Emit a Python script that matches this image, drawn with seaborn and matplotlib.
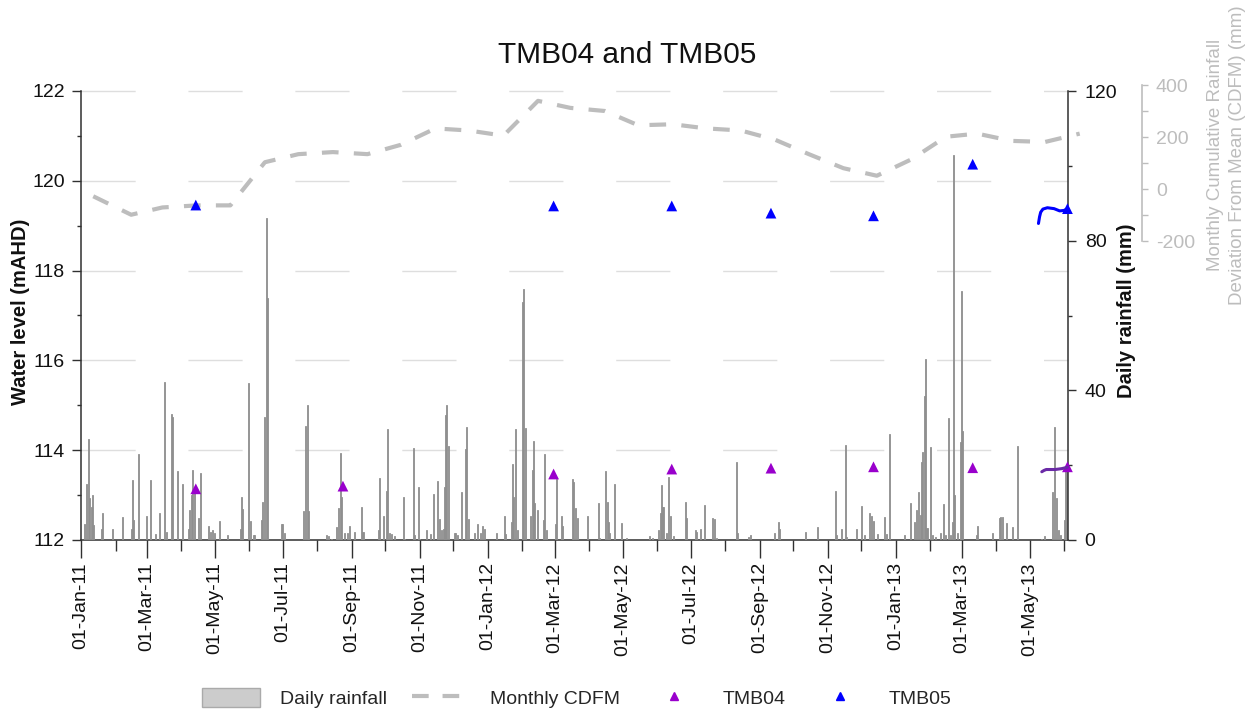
import numpy as np
import pandas as pd
import matplotlib
matplotlib.use("Agg")
import matplotlib.pyplot as plt
import matplotlib.dates as mdates
from matplotlib.ticker import FixedLocator, MultipleLocator
from matplotlib.lines import Line2D
from matplotlib.patches import Patch
import seaborn as sns

# ---------------- data ----------------
record_start = "2011-01-01"

# daily rainfall: day of record (days since 1 Jan 2011) and depth (mm)
rain_day = [3, 5, 7, 8, 9, 10, 11, 18, 19, 28, 37, 45, 46, 47, 52, 59, 62, 67, 70, 75,
            77, 81, 82, 87, 91, 96, 97, 99, 100, 102, 105, 107, 114, 116, 118, 120, 124, 131, 143, 144,
            145, 150, 152, 155, 156, 162, 163, 165, 166, 167, 180, 181, 183, 200, 201, 203, 204, 220, 222, 225,
            229, 231, 233, 234, 236, 239, 241, 245, 252, 253, 267, 268, 271, 274, 275, 277, 279, 281, 289, 290,
            298, 299, 303, 304, 310, 314, 316, 320, 322, 323, 325, 326, 327, 328, 330, 335, 336, 338, 341, 345,
            346, 348, 353, 356, 358, 360, 362, 373, 380, 381, 386, 387, 388, 390, 392, 396, 397, 399, 403, 405,
            406, 407, 410, 415, 416, 418, 426, 427, 431, 432, 441, 442, 444, 445, 454, 464, 465, 471, 472, 473,
            474, 479, 485, 489, 510, 513, 518, 520, 521, 522, 523, 525, 527, 529, 532, 542, 543, 551, 552, 556,
            559, 567, 568, 570, 588, 589, 599, 601, 622, 626, 627, 650, 661, 677, 678, 682, 686, 687, 696, 700,
            703, 707, 709, 711, 715, 721, 723, 725, 739, 744, 748, 750, 751, 753, 754, 755, 757, 758, 759, 762,
            764, 767, 771, 774, 776, 778, 780, 782, 783, 784, 786, 789, 790, 791, 803, 804, 818, 824, 825, 827,
            830, 836, 840, 862, 864, 872, 873, 875, 877, 879, 882, 883, 884]
rain_mm = [4.4, 15.1, 26.9, 11.1, 8.9, 12.0, 4.0, 3.0, 7.1, 3.0, 6.2, 3.0, 16.0, 5.3, 23.0, 6.4, 16.0, 1.5, 7.3, 42.3,
           2.2, 33.7, 32.8, 18.5, 15.0, 3.0, 8.0, 12.0, 18.7, 13.4, 5.8, 18.0, 3.7, 2.2, 2.7, 1.8, 5.2, 1.3, 3.0, 11.6,
           8.2, 41.9, 5.2, 1.3, 1.3, 5.3, 10.2, 32.9, 86.0, 64.8, 4.3, 4.4, 1.8, 7.8, 30.5, 36.1, 7.8, 1.3, 1.2, 0.4,
           3.6, 8.5, 23.2, 11.6, 1.8, 1.8, 3.7, 2.2, 8.9, 2.2, 2.7, 16.5, 6.5, 13.1, 29.6, 1.8, 1.5, 1.2, 11.4, 0.3,
           24.5, 1.3, 14.1, 0.4, 2.7, 1.5, 12.3, 15.8, 5.5, 2.7, 3.0, 14.1, 33.4, 36.1, 25.1, 2.0, 2.0, 1.3, 12.7, 24.2,
           30.3, 5.5, 2.0, 4.3, 2.0, 3.7, 3.0, 2.0, 6.5, 1.5, 4.9, 20.3, 11.4, 29.6, 2.7, 63.7, 67.0, 29.8, 6.4, 18.7,
           26.5, 10.0, 8.0, 5.3, 23.0, 2.7, 4.3, 16.2, 6.5, 3.7, 16.4, 15.6, 8.5, 5.8, 6.4, 10.0, 0.6, 18.5, 10.2, 4.9,
           1.8, 15.0, 4.6, 0.6, 1.1, 0.6, 2.8, 7.1, 14.8, 8.9, 8.7, 1.8, 16.8, 6.5, 1.1, 10.2, 6.0, 2.7, 2.2, 3.0,
           9.4, 6.0, 5.5, 0.6, 20.9, 2.0, 0.9, 1.3, 1.8, 4.9, 3.0, 2.2, 3.6, 13.2, 1.3, 3.0, 25.4, 0.9, 3.0, 9.1,
           1.3, 7.1, 6.4, 5.2, 1.6, 6.1, 1.6, 28.3, 1.3, 9.8, 4.9, 8.0, 12.9, 6.7, 20.9, 23.6, 38.5, 48.5, 3.1, 24.9,
           1.3, 0.9, 1.8, 9.6, 1.3, 32.5, 1.3, 4.9, 102.9, 12.0, 1.8, 26.3, 66.6, 29.2, 1.3, 3.7, 2.0, 5.8, 6.1, 6.2,
           4.5, 3.6, 25.1, 0.4, 1.2, 12.9, 30.3, 11.1, 2.7, 1.3, 5.4, 18.6, 20.0]

# monthly cumulative deviation from mean (mm)
cdfm_date = ["2011-01-12", "2011-02-15", "2011-03-15", "2011-04-15", "2011-05-15", "2011-06-15",
             "2011-07-15", "2011-08-15", "2011-09-15", "2011-10-15", "2011-11-15", "2011-12-15",
             "2012-01-15", "2012-02-15", "2012-03-15", "2012-04-15", "2012-05-15", "2012-06-15",
             "2012-07-15", "2012-08-15", "2012-09-15", "2012-10-15", "2012-11-15", "2012-12-15",
             "2013-01-15", "2013-02-15", "2013-03-15", "2013-04-15", "2013-05-15", "2013-06-15"]
cdfm_value = [-28, -99, -71, -63, -63, 103, 134, 142, 134, 170, 233, 225,
              205, 339, 312, 300, 245, 249, 233, 225, 189, 134, 80, 51,
              114, 201, 213, 185, 181, 213]

# manual water level readings (mAHD)
tmb04_date = ["2011-04-14", "2011-08-24", "2012-02-29", "2012-06-14", "2012-09-11",
              "2012-12-12", "2013-03-11", "2013-06-04"]
tmb04_level = [113.14, 113.20, 113.47, 113.58, 113.60, 113.63, 113.61, 113.63]
tmb05_date = ["2011-04-14", "2012-02-29", "2012-06-14", "2012-09-11",
              "2012-12-12", "2013-03-11", "2013-06-04"]
tmb05_level = [119.46, 119.44, 119.44, 119.28, 119.22, 120.37, 119.38]

# logger water levels (mAHD)
tmb04_log_date = ["2013-05-12", "2013-05-14", "2013-05-16", "2013-05-20", "2013-05-24",
                  "2013-05-30", "2013-06-04"]
tmb04_log_level = [113.52, 113.55, 113.57, 113.57, 113.57, 113.59, 113.62]
tmb05_log_date = ["2013-05-09", "2013-05-10", "2013-05-11", "2013-05-13", "2013-05-17",
                  "2013-05-23", "2013-05-28", "2013-06-01", "2013-06-04"]
tmb05_log_level = [119.05, 119.20, 119.30, 119.37, 119.40, 119.38, 119.33, 119.34, 119.38]

x_range = ["2011-01-01", "2013-06-04 12:00"]

# ---------------- style ----------------
sns.set_theme(style="ticks")
plt.rcParams["font.family"] = ["Liberation Sans", "DejaVu Sans"]
plt.rcParams["lines.scale_dashes"] = False
plt.rcParams["axes.unicode_minus"] = False

C_RAIN = "#8f8f8f"
C_CDFM = "#bdbdbd"
C_04 = "#9900cc"
C_05 = "#0000ff"
C_04L = "#6a2aa6"
C_AX = "#303030"

W, H = 1250, 711
L, R, T, B = 81, 1068, 91, 540
pos = [L / W, 1 - B / H, (R - L) / W, (B - T) / H]

fig = plt.figure(figsize=(W / 100, H / 100), dpi=100)
ax = fig.add_axes(pos)                       # water level axis + grid
ax_rain = ax.twinx()                         # daily rainfall
ax_cdfm = fig.add_axes([L / W, 1 - B / H, (R - L) / W, (B - 85) / H], sharex=ax)
ax_pts = fig.add_axes(pos, sharex=ax, sharey=ax)

for z, a in enumerate([ax, ax_rain, ax_cdfm, ax_pts]):
    a.set_zorder(z)
for a in [ax_rain, ax_cdfm, ax_pts]:
    a.patch.set_visible(False)

# ---------------- rainfall ----------------
rain_dates = pd.Timestamp(record_start) + pd.to_timedelta(rain_day, unit="D")
ax_rain.bar(rain_dates, rain_mm, width=0.9, color=C_RAIN, edgecolor=C_RAIN, linewidth=0.6)

# ---------------- CDFM ----------------
sns.lineplot(x=pd.to_datetime(cdfm_date), y=cdfm_value, ax=ax_cdfm, color=C_CDFM,
             linewidth=3, linestyle=(0, (12, 11)), clip_on=False)

# ---------------- water levels ----------------
sns.lineplot(x=pd.to_datetime(tmb05_log_date), y=tmb05_log_level, ax=ax_pts,
             color=C_05, linewidth=2.2, clip_on=False)
sns.lineplot(x=pd.to_datetime(tmb04_log_date), y=tmb04_log_level, ax=ax_pts,
             color=C_04L, linewidth=2.2, clip_on=False)
sns.scatterplot(x=pd.to_datetime(tmb04_date), y=tmb04_level, ax=ax_pts, marker="^",
                s=60, color=C_04, edgecolor="none", clip_on=False)
sns.scatterplot(x=pd.to_datetime(tmb05_date), y=tmb05_level, ax=ax_pts, marker="^",
                s=60, color=C_05, edgecolor="none", clip_on=False)
ax_pts.axis("off")

# ---------------- axes ----------------
ax.set_xlim(pd.Timestamp(x_range[0]), pd.Timestamp(x_range[1]))
ax.set_ylim(112, 122)
ax_rain.set_ylim(0, 120)
ax_cdfm.set_ylim(-1350, 400)

ax.xaxis.set_major_locator(mdates.MonthLocator(bymonth=[1, 3, 5, 7, 9, 11]))
ax.xaxis.set_minor_locator(mdates.MonthLocator())
ax.xaxis.set_major_formatter(mdates.DateFormatter("%d-%b-%y"))
ax.yaxis.set_major_locator(MultipleLocator(2))
ax.yaxis.set_minor_locator(MultipleLocator(1))
ax_rain.yaxis.set_major_locator(MultipleLocator(40))
ax_rain.yaxis.set_minor_locator(MultipleLocator(20))

ax.tick_params(axis="x", which="major", length=13, width=1, color=C_AX,
               labelsize=14, labelrotation=90, pad=3, labelcolor="#111111")
ax.tick_params(axis="x", which="minor", length=8, width=1, color=C_AX)
ax.tick_params(axis="y", which="major", length=6.5, width=1, color=C_AX,
               labelsize=14, pad=5, labelcolor="#111111")
ax.tick_params(axis="y", which="minor", length=3, width=1, color=C_AX)
ax_rain.tick_params(axis="y", which="major", length=6, width=1, color=C_AX,
                    labelsize=14, pad=6, labelcolor="#111111")
ax_rain.tick_params(axis="y", which="minor", length=3, width=1, color=C_AX)

# long-dashed horizontal grid at the water-level major ticks
ax.grid(False)
for v in ax.get_yticks():
    if 112 < v <= 122:
        ax.axhline(v, color="#dedede", linewidth=1, dashes=(39, 38), zorder=0.5, clip_on=False)

for s in ["top", "right"]:
    ax.spines[s].set_visible(False)
for s in ["left", "bottom"]:
    ax.spines[s].set_color(C_AX)
    ax.spines[s].set_linewidth(1.1)
for s in ["top", "left", "bottom"]:
    ax_rain.spines[s].set_visible(False)
ax_rain.spines["right"].set_color(C_AX)
ax_rain.spines["right"].set_linewidth(1.1)

# CDFM axis
ax_cdfm.xaxis.set_visible(False)
for s in ["top", "left", "bottom"]:
    ax_cdfm.spines[s].set_visible(False)
ax_cdfm.yaxis.tick_right()
ax_cdfm.yaxis.set_label_position("right")
ax_cdfm.spines["right"].set_position(("axes", 1.075))
ax_cdfm.spines["right"].set_bounds(-200, 400)
ax_cdfm.spines["right"].set_color(C_CDFM)
ax_cdfm.spines["right"].set_linewidth(1.2)
ax_cdfm.yaxis.set_major_locator(FixedLocator([-200, 0, 200, 400]))
ax_cdfm.yaxis.set_minor_locator(FixedLocator([-100, 100, 300]))
ax_cdfm.tick_params(axis="y", which="both", length=4, width=1, color=C_CDFM,
                    labelsize=14, labelcolor=C_CDFM, pad=6)

# labels
ax.set_xlabel("")
ax.set_ylabel("Water level (mAHD)", fontsize=14.5, fontweight="bold", color="#111111")
ax.yaxis.set_label_coords(-0.0517, 0.508)
ax_rain.set_ylabel("Daily rainfall (mm)", fontsize=14.5, fontweight="bold", color="#111111")
ax_rain.yaxis.set_label_coords(1.0497, 0.51)
ax_cdfm.set_ylabel("Monthly Cumulative Rainfall\nDeviation From Mean (CDFM) (mm)",
                   fontsize=13.5, color=C_CDFM, linespacing=1.35)
ax_cdfm.yaxis.set_label_coords(1.141, 0.846)

fig.suptitle("TMB04 and TMB05", x=0.502, y=1 - 55 / H, va="center", fontsize=21.5, color="#111111")

handles = [
    Patch(facecolor="#cccccc", edgecolor="#aaaaaa", label="Daily rainfall"),
    Line2D([], [], color=C_CDFM, lw=3, linestyle=(0, (12, 10)), label="Monthly CDFM"),
    Line2D([], [], marker="^", color=C_04, linestyle="none", markersize=6, label="TMB04"),
    Line2D([], [], marker="^", color=C_05, linestyle="none", markersize=6, label="TMB05"),
]
fig.legend(handles=handles, loc="center", bbox_to_anchor=(0.4616, 0.018), ncol=4,
           frameon=False, fontsize=14, handlelength=3.0, handleheight=1.15,
           handletextpad=1.0, columnspacing=1.3)

fig.savefig("out.png", dpi=100)
